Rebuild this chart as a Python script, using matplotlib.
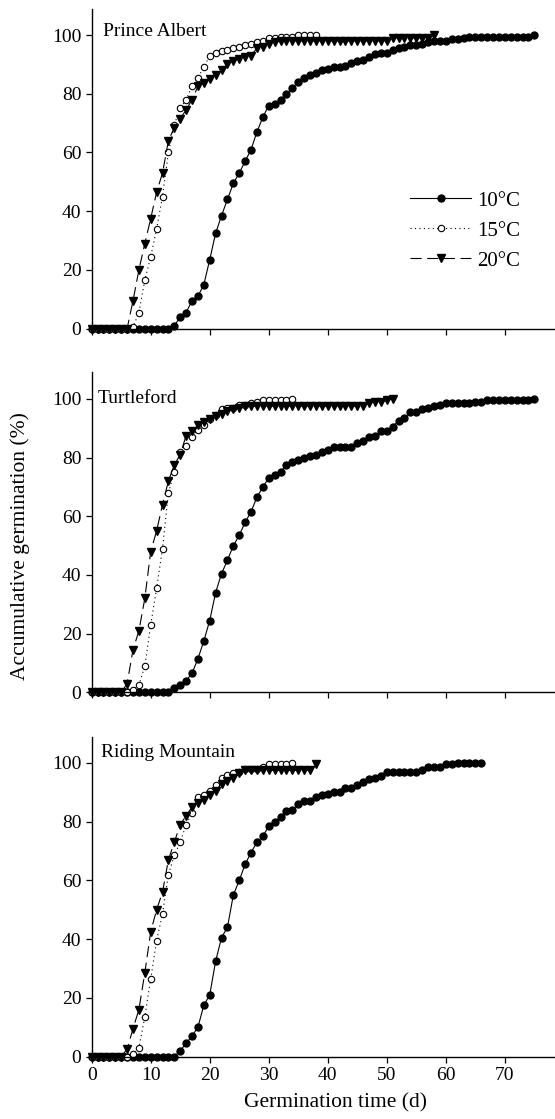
import numpy as np
import matplotlib
matplotlib.use('Agg')
import matplotlib.pyplot as plt

plt.rcParams['font.family'] = ['Liberation Serif', 'DejaVu Serif']

sites = ['Prince Albert', 'Turtleford', 'Riding Mountain']
temps = ['10°C', '15°C', '20°C']
xticks = [0, 10, 20, 30, 40, 50, 60, 70]
yticks = [0, 20, 40, 60, 80, 100]

# accumulative germination (%) per day, starting at day 0
pa_10 = [0, 0, 0, 0, 0, 0, 0, 0, 0, 0, 0, 0, 0, 0,
         1, 4, 5.5, 9.5, 11, 15, 23.5, 32.5, 38.5, 44,
         49.5, 53, 57, 61, 67, 72, 76, 76.5, 78, 80,
         82, 84, 85.5, 86.5, 87, 88, 88.5, 89, 89, 89.5,
         90.5, 91, 91.5, 92.5, 93.5, 94, 94, 95, 95.5, 96,
         96.5, 96.5, 97, 97.5, 98, 98, 98, 98.5, 98.5, 99,
         99.5, 99.5, 99.5, 99.5, 99.5, 99.5, 99.5, 99.5, 99.5, 99.5, 99.5, 100]
pa_15 = [0, 0, 0, 0, 0, 0, 0,
         0.5, 5.5, 16.5, 24.5, 34, 45, 60, 69.5, 75, 78,
         82.5, 85.5, 89, 93, 94, 94.5, 95, 95.5, 96, 96.5,
         97, 97.5, 98, 99, 99, 99.5, 99.5, 99.5, 100, 100,
         100, 100]
pa_20 = [0, 0, 0, 0, 0, 0, 0,
         9.5, 20, 29, 37.5, 46.5, 53, 64, 68.5, 71.5, 74.5,
         78, 82.5, 83.5, 85, 86.5, 88, 90, 91, 92, 92.5,
         93, 95.5, 96, 97, 97.5,
         98, 98, 98, 98, 98, 98, 98, 98, 98, 98, 98, 98, 98, 98, 98, 98, 98, 98, 98,
         99, 99, 99, 99, 99, 99, 99, 100]

tf_10 = [0, 0, 0, 0, 0, 0, 0, 0, 0, 0, 0, 0, 0, 0,
         1.5, 2.5, 4, 6.5, 11.5, 17.5, 24.5, 34, 40.5, 45,
         50, 53.5, 58, 61.5, 66.5, 70, 73, 74, 75, 77.5,
         78.5, 79, 80, 80.5, 81, 82, 82.5, 83.5, 83.5, 83.5,
         83.5, 85, 85.5, 87, 87.5, 89, 89, 90.5, 92.5, 93.5,
         95.5, 95.5, 96.5, 97, 97.5, 98, 98.5, 98.5, 98.5, 98.5,
         98.5, 99, 99, 99.5, 99.5, 99.5, 99.5, 99.5, 99.5, 99.5, 99.5, 100]
tf_15 = [0, 0, 0, 0, 0, 0, 0,
         1, 2.5, 9, 23, 35.5, 49, 68, 75, 82, 84,
         87, 89.5, 91, 93, 94.5, 96.5, 97, 97, 98, 98,
         98.5, 99, 99.5, 99.5, 99.5, 99.5, 99.5, 100]
tf_20 = [0, 0, 0, 0, 0, 0,
         3, 14.5, 21, 32, 48, 55, 64, 72, 77.5, 81, 87.5,
         89, 91, 92, 93, 94, 95, 96, 96.5, 97,
         97.5, 97.5, 97.5, 97.5, 97.5, 97.5, 97.5, 97.5, 97.5, 97.5, 97.5,
         97.5, 97.5, 97.5, 97.5, 97.5, 97.5, 97.5, 97.5, 97.5, 97.5,
         98.5, 99, 99, 99.5, 100]

rm_10 = [0, 0, 0, 0, 0, 0, 0, 0, 0, 0, 0, 0, 0, 0, 0,
         2, 4.5, 7, 10, 17.5, 21,
         32.5, 40.5, 44, 55, 60, 65.5, 69.5, 73, 75, 78.5,
         80, 81.5, 83.5, 84, 86, 87, 87, 88.5, 89, 89.5,
         90, 90, 91.5, 91.5, 92.5, 93.5, 94.5, 95, 95.5, 97,
         97, 97, 97, 97, 97, 97.5, 98.5, 98.5, 98.5, 99.5,
         99.5, 100, 100, 100, 100, 100]
rm_15 = [0, 0, 0, 0, 0, 0, 0,
         1, 3, 13.5, 26.5, 39.5, 48.5, 62, 68.5, 73, 79, 83,
         88.5, 89, 90.5, 92.5, 95, 96, 96.5, 97, 98, 98,
         98, 98.5, 99.5, 99.5, 99.5, 99.5, 100]
rm_20 = [0, 0, 0, 0, 0, 0,
         2.5, 9.5, 16, 28.5, 42.5, 50, 56, 67, 73, 79, 82,
         85, 86.5, 87.5, 89, 90.5, 93, 94, 95, 96.5, 97.5,
         97.5, 97.5, 97.5, 97.5, 97.5, 97.5, 97.5, 97.5, 97.5, 97.5, 97.5,
         99.5]


def draw_panel(ax, series, title, title_pos, show_xlabels):
    styles = [dict(marker='o', mfc='black', mec='black', ms=5, ls='-'),
              dict(marker='o', mfc='white', mec='black', ms=4.6, mew=0.8, ls=(0, (1, 3))),
              dict(marker='v', mfc='black', mec='black', ms=6, ls=(0, (10, 5)))]
    for vals, lab, st in zip(series, temps, styles):
        days = np.arange(len(vals))
        ax.plot(days, vals, color='black', lw=0.8, label=lab, clip_on=False, **st)

    ax.set_xlim(0, 78.5)
    ax.set_ylim(0, 109)
    ax.set_xticks(xticks)
    ax.set_yticks(yticks)
    if not show_xlabels:
        ax.set_xticklabels([])
    ax.spines['top'].set_visible(False)
    ax.spines['right'].set_visible(False)
    ax.spines['left'].set_linewidth(1.0)
    ax.spines['bottom'].set_linewidth(1.0)
    ax.tick_params(direction='out', length=4, width=0.9, labelsize=14, colors='black')
    ax.text(title_pos[0], title_pos[1], title, transform=ax.transAxes,
            fontsize=14, va='center', ha='left')


fig = plt.figure(figsize=(5.55, 11.19), dpi=100)

bottoms = [0.7063, 0.3812, 0.0558]
title_pos = [(0.024, 0.93), (0.014, 0.92), (0.021, 0.95)]
data = [[pa_10, pa_15, pa_20], [tf_10, tf_15, tf_20], [rm_10, rm_15, rm_20]]

axes = []
for i in range(3):
    ax = fig.add_axes([0.1652, bottoms[i], 0.8348, 0.286])
    draw_panel(ax, data[i], sites[i], title_pos[i], i == 2)
    axes.append(ax)

axes[0].legend(loc='upper left', bbox_to_anchor=(0.688, 0.43), frameon=False,
               fontsize=15, handlelength=2.9, handletextpad=0.3,
               labelspacing=0.5, borderpad=0, borderaxespad=0)

fig.text(20 / 555, 1 - 546 / 1119, 'Accumulative germination (%)', rotation=90,
         fontsize=15.5, ha='center', va='center')
fig.text(335 / 555, 1 - 1103 / 1119, 'Germination time (d)', fontsize=15.5,
         ha='center', va='center')

fig.savefig('out.png', dpi=100)
